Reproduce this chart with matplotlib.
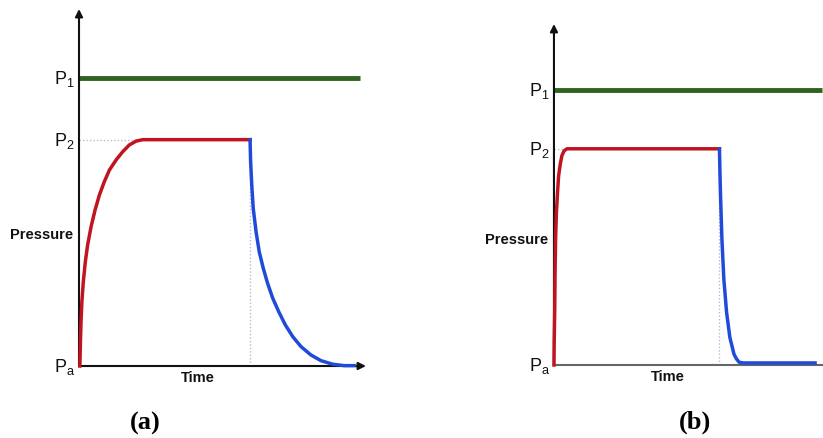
"""Pressure against time for two charge/discharge cycles.

Panel (a) shows a slow exponential fill to P2 followed by a slow bleed back
to ambient; panel (b) shows the same cycle with a fast fill and fast vent.
The supply pressure P1 is drawn as a constant green line in both.
"""

import matplotlib.pyplot as plt

plt.rcParams["mathtext.fontset"] = "custom"
plt.rcParams["mathtext.rm"] = "Liberation Sans"
plt.rcParams["mathtext.it"] = "Liberation Sans:italic"

DARK = "#111111"
SUPPLY_COLOR = "#2f6320"
FILL_COLOR = "#c01420"
VENT_COLOR = "#1f4bd8"
GUIDE_COLOR = "#b8b8d8"

# Pressure levels, as a fraction of the axis height (Pa = 0).
P_SUPPLY = 0.807
P_HOLD = 0.634
SUPPLY_END = 0.979

# Panel (a): slow fill and slow vent.
FILL_A_TIME = [0.003, 0.005, 0.007, 0.010, 0.015, 0.022, 0.030, 0.042, 0.056, 0.071,
               0.088, 0.106, 0.129, 0.152, 0.175, 0.199, 0.222, 0.245, 0.596]
FILL_A_PRESSURE = [0.0, 0.068, 0.124, 0.180, 0.236, 0.292, 0.339, 0.390, 0.437, 0.479,
                   0.516, 0.549, 0.577, 0.600, 0.619, 0.630, 0.634, 0.634, 0.634]
VENT_A_TIME = [0.596, 0.598, 0.602, 0.607, 0.617, 0.628, 0.642, 0.657, 0.675, 0.696,
               0.719, 0.745, 0.774, 0.808, 0.843, 0.884, 0.924, 0.959]
VENT_A_PRESSURE = [0.634, 0.572, 0.507, 0.442, 0.376, 0.320, 0.274, 0.232, 0.190, 0.152,
                   0.115, 0.082, 0.054, 0.031, 0.015, 0.005, 0.001, 0.001]

# Panel (b): fast fill and fast vent.
FILL_B_TIME = [0.0, 0.001, 0.003, 0.004, 0.006, 0.009, 0.013, 0.017, 0.023, 0.029,
               0.037, 0.047, 0.604]
FILL_B_PRESSURE = [0.0, 0.076, 0.174, 0.272, 0.370, 0.448, 0.506, 0.555, 0.589, 0.614,
                   0.628, 0.634, 0.634]
VENT_B_TIME = [0.604, 0.606, 0.608, 0.613, 0.620, 0.630, 0.642, 0.657, 0.666, 0.676,
               0.691, 0.953]
VENT_B_PRESSURE = [0.634, 0.560, 0.496, 0.370, 0.252, 0.155, 0.081, 0.032, 0.018, 0.008,
                   0.006, 0.006]

LEVEL_LABELS = ["P$_1$", "P$_2$", r"P$_\mathrm{a}$"]


def axis_arrow(axis, end, color=DARK, head=True):
    style = "-|>" if head else "-"
    axis.annotate("", xy=end, xytext=(0, 0), xycoords="axes fraction",
                  annotation_clip=False, arrowprops=dict(
                      arrowstyle=style, color=color, linewidth=1.5,
                      shrinkA=0, shrinkB=0, mutation_scale=11))


def draw_panel(axis, fill_t, fill_p, vent_t, vent_p, xaxis_color=DARK,
               xaxis_head=True):
    axis.set_xlim(0, 1)
    axis.set_ylim(0, 1)
    axis.axis("off")

    # Guide lines from the axis to where the fill levels off, and down from the vent.
    level_off = next(t for t, p in zip(fill_t, fill_p) if p >= P_HOLD)
    axis.plot([0, level_off], [P_HOLD, P_HOLD], color=GUIDE_COLOR, linewidth=1,
              linestyle=(0, (1, 1.5)), zorder=1)
    axis.plot([vent_t[0], vent_t[0]], [0, P_HOLD], color=GUIDE_COLOR, linewidth=1,
              linestyle=(0, (1, 1.5)), zorder=1)

    axis.plot([0, SUPPLY_END], [P_SUPPLY, P_SUPPLY], color=SUPPLY_COLOR,
              linewidth=3.5, solid_capstyle="butt", zorder=3, clip_on=False)
    axis.plot(fill_t, fill_p, color=FILL_COLOR, linewidth=2.5,
              solid_joinstyle="round", zorder=4, clip_on=False)
    axis.plot(vent_t, vent_p, color=VENT_COLOR, linewidth=2.5,
              solid_joinstyle="round", zorder=4, clip_on=False)

    axis_arrow(axis, (0, 1))
    axis_arrow(axis, (1, 0), color=xaxis_color, head=xaxis_head)

    for level, text in zip([P_SUPPLY, P_HOLD, 0.0], LEVEL_LABELS):
        axis.annotate(text, xy=(0, level), xycoords=("axes fraction", "data"),
                      xytext=(-3, 0), textcoords="offset points", ha="right",
                      va="center", fontsize=13, family="Liberation Sans",
                      color=DARK)

    axis.annotate("Pressure", xy=(0, 0.37), xycoords="axes fraction",
                  xytext=(-4, 0), textcoords="offset points", ha="right",
                  va="center", fontsize=10.5, weight="bold",
                  family="Liberation Sans", color=DARK)
    axis.annotate("Time", xy=(0.415, 0), xycoords="axes fraction",
                  xytext=(0, -8), textcoords="offset points", ha="center",
                  va="center", fontsize=10.5, weight="bold",
                  family="Liberation Sans", color=DARK)
    return axis


def main():
    figure = plt.figure(figsize=(8.23, 4.39), dpi=100)

    panel_a = figure.add_axes([0.0960, 0.1640, 0.3487, 0.8132])
    draw_panel(panel_a, FILL_A_TIME, FILL_A_PRESSURE, VENT_A_TIME, VENT_A_PRESSURE)

    panel_b = figure.add_axes([0.6731, 0.1663, 0.3329, 0.7768])
    draw_panel(panel_b, FILL_B_TIME, FILL_B_PRESSURE, VENT_B_TIME, VENT_B_PRESSURE,
               xaxis_color="#666666", xaxis_head=False)

    figure.text(145 / 823, 1 - 423 / 439, "(a)", ha="center", va="center",
                fontsize=19, weight="bold", family="Liberation Serif")
    figure.text(695 / 823, 1 - 422 / 439, "(b)", ha="center", va="center",
                fontsize=19, weight="bold", family="Liberation Serif")

    figure.savefig("out.png", dpi=100, facecolor="white")
    plt.close(figure)


if __name__ == "__main__":
    main()
